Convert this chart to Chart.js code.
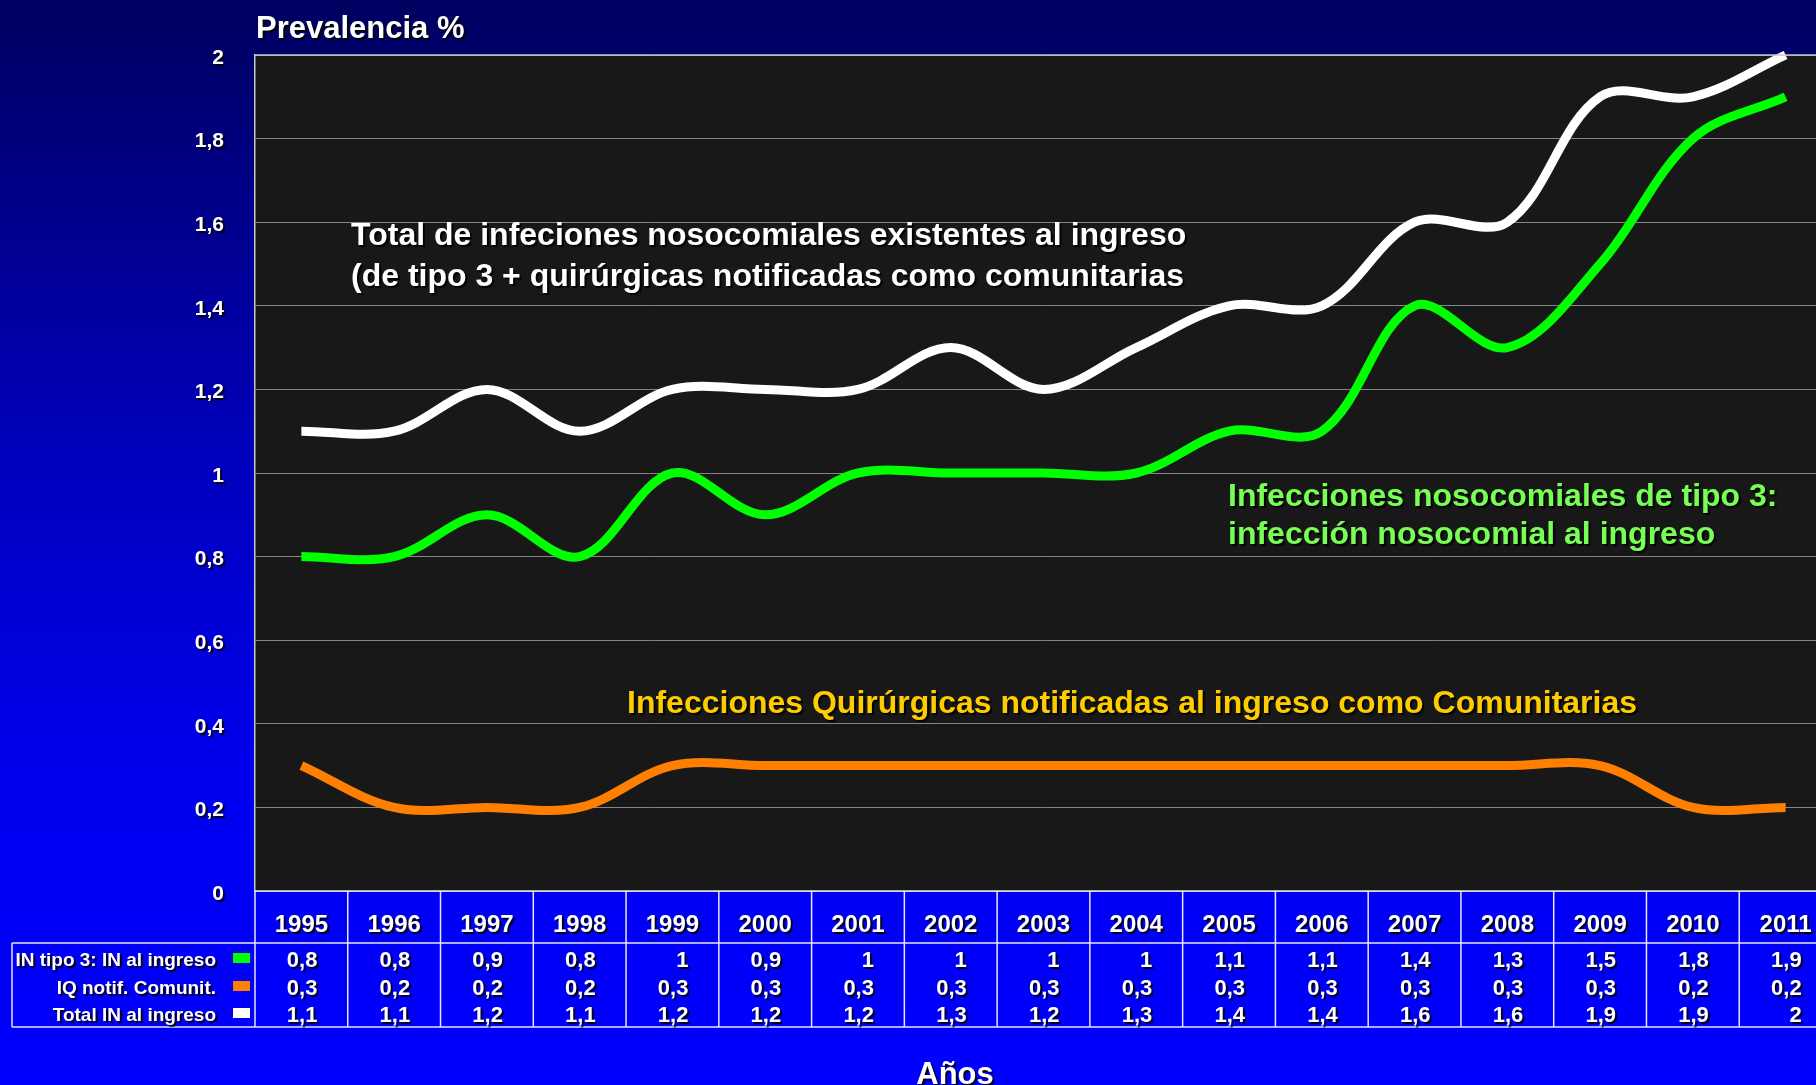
<!DOCTYPE html>
<html lang="es">
<head>
<meta charset="utf-8">
<title>Prevalencia de infección nosocomial al ingreso</title>
<script src="https://cdn.jsdelivr.net/npm/chart.js@4.4.1/dist/chart.umd.min.js"></script>
<style>
    html, body { margin: 0; padding: 0; width: 1816px; height: 1085px; overflow: hidden; }
    body { background: linear-gradient(to bottom, #000060 0%, #0000b8 40%, #0000ee 72%, #0000ff 100%); }
    #wrap { position: absolute; left: 0; top: 0; width: 1832px; height: 1085px; }
</style>
</head>
<body>
<div id="wrap"><canvas id="prevChart" width="1832" height="1085"></canvas></div>
<script>
const years = ['1995', '1996', '1997', '1998', '1999', '2000', '2001', '2002', '2003',
    '2004', '2005', '2006', '2007', '2008', '2009', '2010', '2011'];
const tipo3 = [0.8, 0.8, 0.9, 0.8, 1, 0.9, 1, 1, 1, 1, 1.1, 1.1, 1.4, 1.3, 1.5, 1.8, 1.9];
const iqComunit = [0.3, 0.2, 0.2, 0.2, 0.3, 0.3, 0.3, 0.3, 0.3, 0.3, 0.3, 0.3, 0.3, 0.3, 0.3, 0.2, 0.2];
const totalIngreso = [1.1, 1.1, 1.2, 1.1, 1.2, 1.2, 1.2, 1.3, 1.2, 1.3, 1.4, 1.4, 1.6, 1.6, 1.9, 1.9, 2];
const rowLabels = ['IN tipo 3: IN al ingreso', 'IQ notif. Comunit.', 'Total IN al ingreso'];
const rowColors = ['#00ff00', '#ff8000', '#ffffff'];

const FONT = '"Liberation Sans", Arial, sans-serif';

function fmt(v) {
    return String(Math.round(v * 10) / 10).replace('.', ',');
}

function shadowOn(ctx) {
    ctx.shadowColor = 'rgba(0,0,0,0.9)';
    ctx.shadowOffsetX = 2;
    ctx.shadowOffsetY = 2;
    ctx.shadowBlur = 1;
}

function shadowOff(ctx) {
    ctx.shadowColor = 'rgba(0,0,0,0)';
    ctx.shadowOffsetX = 0;
    ctx.shadowOffsetY = 0;
    ctx.shadowBlur = 0;
}

function text(ctx, str, x, y, size, color, align) {
    ctx.font = 'bold ' + size + 'px ' + FONT;
    ctx.fillStyle = color;
    ctx.textAlign = align || 'left';
    ctx.textBaseline = 'alphabetic';
    ctx.fillText(str, x, y);
}

// background of the plot, table grid and all the slide texts
const slidePlugin = {
    id: 'slide',
    beforeDraw(chart) {
        const { ctx, chartArea: a } = chart;
        shadowOff(ctx);
        ctx.save();
        ctx.fillStyle = '#181818';
        ctx.fillRect(a.left, a.top, a.right - a.left, a.bottom - a.top);
        ctx.restore();
    },
    afterDatasetsDraw(chart) {
        // tick labels are drawn after this (ticks z: 1) and get the shadow
        shadowOn(chart.ctx);
    },
    afterDraw(chart) {
        const { ctx, chartArea: a, scales: { x } } = chart;
        shadowOff(ctx);
        ctx.save();

        const colW = x.getPixelForValue(1) - x.getPixelForValue(0);
        const headBottom = 943;
        const tableBottom = 1027;
        const rowY = [959, 987, 1014];

        // plot top border
        ctx.strokeStyle = '#c8c8c8';
        ctx.lineWidth = 1.5;
        ctx.beginPath();
        ctx.moveTo(a.left, a.top);
        ctx.lineTo(a.right, a.top);
        ctx.stroke();

        // table lines
        ctx.strokeStyle = 'rgba(255,255,255,0.9)';
        ctx.lineWidth = 1.5;
        ctx.beginPath();
        ctx.moveTo(a.left, a.bottom);
        ctx.lineTo(a.right, a.bottom);
        ctx.moveTo(12, headBottom);
        ctx.lineTo(a.right, headBottom);
        ctx.moveTo(12, tableBottom);
        ctx.lineTo(a.right, tableBottom);
        ctx.moveTo(12, headBottom);
        ctx.lineTo(12, tableBottom);
        for (let i = 0; i <= years.length; i++) {
            const bx = x.getPixelForValue(0) - colW / 2 + i * colW;
            ctx.moveTo(bx, a.bottom);
            ctx.lineTo(bx, tableBottom);
        }
        ctx.stroke();

        // legend swatches
        rowColors.forEach((c, r) => {
            ctx.fillStyle = c;
            ctx.fillRect(233, rowY[r] - 6, 17, 10);
        });

        shadowOn(ctx);
        // legend labels
        rowLabels.forEach((lab, r) => {
            text(ctx, lab, 216, rowY[r] + 7, 19, '#ffffff', 'right');
        });

        // table values
        [tipo3, iqComunit, totalIngreso].forEach((series, r) => {
            series.forEach((v, i) => {
                const cx = x.getPixelForValue(i);
                text(ctx, fmt(v), cx + 16, rowY[r] + 8, 22, '#ffffff', 'right');
            });
        });

        // titles
        text(ctx, 'Prevalencia %', 256, 38, 31, '#ffffff');
        text(ctx, 'Años', 955, 1084, 31, '#ffffff', 'center');

        // annotations inside the plot
        text(ctx, 'Total de infeciones nosocomiales existentes al ingreso', 351, 245, 32, '#ffffff');
        text(ctx, '(de tipo 3 + quirúrgicas notificadas como comunitarias', 351, 286, 32, '#ffffff');
        text(ctx, 'Infecciones nosocomiales de tipo 3:', 1228, 506, 32, '#77ff55');
        text(ctx, 'infección nosocomial al ingreso', 1228, 544, 32, '#77ff55');
        text(ctx, 'Infecciones Quirúrgicas notificadas al ingreso como Comunitarias', 627, 713, 32, '#ffcc00');

        ctx.restore();
        shadowOff(ctx);
    }
};

function lineSet(label, data, color) {
    return {
        label: label,
        data: data,
        borderColor: color,
        backgroundColor: color,
        borderWidth: 9,
        borderCapStyle: 'butt',
        borderJoinStyle: 'round',
        pointRadius: 0,
        pointHoverRadius: 0,
        tension: 0.35,
        fill: false,
        clip: 12
    };
}

const ctx = document.getElementById('prevChart').getContext('2d');
const prevChart = new Chart(ctx, {
    type: 'line',
    data: {
        labels: years,
        datasets: [
            lineSet(rowLabels[1], iqComunit, '#ff8000'),
            lineSet(rowLabels[0], tipo3, '#00ff00'),
            lineSet(rowLabels[2], totalIngreso, '#ffffff')
        ]
    },
    options: {
        responsive: false,
        animation: false,
        devicePixelRatio: 1,
        layout: {
            padding: { top: 55, left: 0, right: 0, bottom: 0 }
        },
        plugins: {
            legend: { display: false },
            title: { display: false },
            tooltip: { enabled: false }
        },
        scales: {
            x: {
                type: 'category',
                offset: true,
                afterFit: (scale) => { scale.height = 194; },
                grid: { display: false },
                border: { display: false },
                ticks: {
                    z: 1,
                    color: '#ffffff',
                    font: { family: FONT, size: 24, weight: 'bold' },
                    padding: 12,
                    maxRotation: 0,
                    autoSkip: false
                }
            },
            y: {
                min: 0,
                max: 2,
                afterFit: (scale) => { scale.width = 255; },
                grid: {
                    color: '#858585',
                    lineWidth: 1,
                    drawTicks: false
                },
                border: { display: true, color: '#c8c8c8', width: 1.5 },
                ticks: {
                    z: 1,
                    stepSize: 0.2,
                    color: '#ffffff',
                    font: { family: FONT, size: 21, weight: 'bold' },
                    padding: 31,
                    labelOffset: 3,
                    callback: (value) => fmt(value)
                }
            }
        }
    },
    plugins: [slidePlugin]
});
</script>
</body>
</html>
